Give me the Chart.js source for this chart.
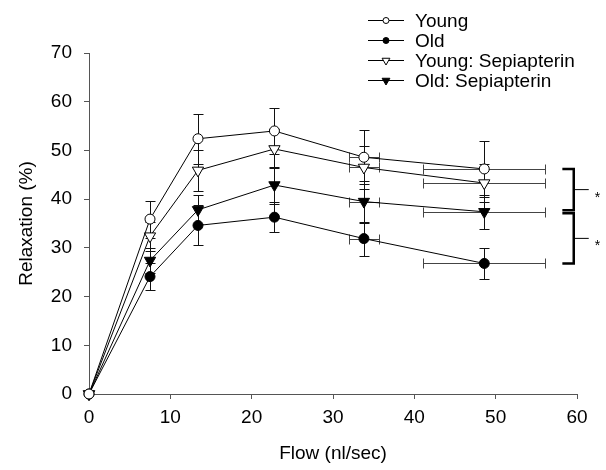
<!DOCTYPE html>
<html>
<head>
<meta charset="utf-8">
<script src="https://cdn.jsdelivr.net/npm/chart.js@4.4.1/dist/chart.umd.min.js"></script>
<style>
  html, body { margin: 0; padding: 0; background: #fff; }
</style>
</head>
<body>
<canvas id="flowChart" width="606" height="470"></canvas>
<script>
// flow (nl/sec) and horizontal error
const flow = [0, 7.5, 13.4, 22.8, 33.8, 48.6];
const flowErr = [0, 0, 0, 0, 1.85, 7.5];

// relaxation (%) and vertical error per group
const young = [0, 35.9, 52.4, 54.0, 48.6, 46.2];
const youngErr = [0, 3.8, 5.1, 4.8, 5.5, 5.8];
const old = [0, 24.1, 34.6, 36.3, 31.9, 26.8];
const oldErr = [0, 2.8, 4.1, 3.1, 3.5, 3.2];
const youngSep = [0, 32.4, 45.9, 50.3, 46.5, 43.3];
const youngSepErr = [0, 3.0, 4.2, 4.0, 4.5, 3.9];
const oldSep = [0, 27.4, 37.8, 42.9, 39.5, 37.4];
const oldSepErr = [0, 2.6, 3.0, 3.8, 4.3, 3.5];

const groupLabels = ['Young', 'Old', 'Young: Sepiapterin', 'Old: Sepiapterin'];
const xTicks = [0, 10, 20, 30, 40, 50, 60];
const yTicks = [0, 10, 20, 30, 40, 50, 60, 70];

const FONT = 'Liberation Sans, Arial, Helvetica, sans-serif';

const groups = [
  { values: young, err: youngErr, shape: 'circle', fill: '#fff', r: 5, rot: 0 },
  { values: old, err: oldErr, shape: 'circle', fill: '#000', r: 5, rot: 0 },
  { values: youngSep, err: youngSepErr, shape: 'triangle', fill: '#fff', r: 6.5, rot: 180 },
  { values: oldSep, err: oldSepErr, shape: 'triangle', fill: '#000', r: 6.5, rot: 180 },
];

const datasets = groups.map((g, i) => ({
  label: groupLabels[i],
  data: flow.map((x, j) => ({ x, y: g.values[j] })),
  yErr: g.err,
  xErr: flowErr,
  showLine: true,
  borderColor: '#000',
  borderWidth: 1,
  pointStyle: g.shape,
  pointRotation: g.rot,
  pointRadius: g.r,
  pointHoverRadius: g.r,
  pointBackgroundColor: g.fill,
  pointBorderColor: '#000',
  pointBorderWidth: 1,
  clip: false,
}));

function seg(ctx, x1, y1, x2, y2) {
  ctx.beginPath();
  ctx.moveTo(x1, y1);
  ctx.lineTo(x2, y2);
  ctx.stroke();
}

const errorBars = {
  id: 'errorBars',
  beforeDatasetsDraw(chart) {
    const { ctx, scales: { x, y } } = chart;
    ctx.save();
    ctx.strokeStyle = '#111';
    ctx.lineWidth = 1;
    chart.data.datasets.forEach(ds => {
      ds.data.forEach((p, i) => {
        const px = Math.round(x.getPixelForValue(p.x)) + 0.5;
        const py = Math.round(y.getPixelForValue(p.y)) + 0.5;
        const ey = ds.yErr[i], ex = ds.xErr[i];
        if (ey > 0) {
          const t = Math.round(y.getPixelForValue(p.y + ey)) + 0.5;
          const b = Math.round(y.getPixelForValue(p.y - ey)) + 0.5;
          seg(ctx, px, t, px, b);
          seg(ctx, px - 5, t, px + 5, t);
          seg(ctx, px - 5, b, px + 5, b);
        }
        if (ex > 0) {
          const l = Math.round(x.getPixelForValue(p.x - ex)) + 0.5;
          const r = Math.round(x.getPixelForValue(p.x + ex)) + 0.5;
          ctx.strokeStyle = '#444';
          seg(ctx, l, py, r, py);
          seg(ctx, l, py - 5, l, py + 5);
          seg(ctx, r, py - 5, r, py + 5);
          ctx.strokeStyle = '#111';
        }
      });
    });
    ctx.restore();
  }
};

function marker(ctx, shape, fill, r, cx, cy) {
  ctx.beginPath();
  if (shape === 'circle') {
    ctx.arc(cx, cy, r, 0, Math.PI * 2);
  } else {
    ctx.moveTo(cx - r * 0.866, cy - r * 0.5);
    ctx.lineTo(cx + r * 0.866, cy - r * 0.5);
    ctx.lineTo(cx, cy + r);
    ctx.closePath();
  }
  ctx.fillStyle = fill;
  ctx.fill();
  ctx.stroke();
}

const legendAndStats = {
  id: 'legendAndStats',
  afterDraw(chart) {
    const { ctx, scales: { x, y } } = chart;
    ctx.save();
    ctx.strokeStyle = '#000';
    ctx.lineWidth = 1;
    ctx.font = '19px ' + FONT;
    ctx.textBaseline = 'middle';
    ctx.textAlign = 'left';
    groups.forEach((g, i) => {
      const ly = 20.5 + i * 20;
      seg(ctx, 368, ly, 404, ly);
      marker(ctx, g.shape, g.fill, g.shape === 'circle' ? 3 : 4.5, 386, ly);
      ctx.fillStyle = '#000';
      ctx.fillText(groupLabels[i], 415, ly + 1);
    });

    // significance brackets at the last flow
    const last = flow.length - 1;
    const pairs = [[young[last], oldSep[last]], [oldSep[last], old[last]]];
    const xa = x.getPixelForValue(58.2), xb = x.getPixelForValue(59.6);
    ctx.lineWidth = 2.5;
    ctx.font = '14px ' + FONT;
    pairs.forEach(([hi, lo], k) => {
      const t = y.getPixelForValue(hi) + (k === 1 ? 1.5 : 0);
      const b = y.getPixelForValue(lo) - (k === 0 ? 1.5 : 0);
      ctx.beginPath();
      ctx.moveTo(xa, t);
      ctx.lineTo(xb, t);
      ctx.lineTo(xb, b);
      ctx.lineTo(xa, b);
      ctx.stroke();
      const m = (t + b) / 2;
      ctx.lineWidth = 1;
      seg(ctx, xb, m, xb + 15, m);
      ctx.lineWidth = 2.5;
      ctx.fillStyle = '#000';
      ctx.textBaseline = 'alphabetic';
      ctx.fillText('*', xb + 21, m + 12);
    });
    ctx.restore();
  }
};

const axisFont = { family: FONT, size: 19 };

new Chart(document.getElementById('flowChart'), {
  type: 'scatter',
  data: { datasets },
  options: {
    responsive: false,
    animation: false,
    events: [],
    layout: { padding: { top: 53, right: 29, left: 0, bottom: 0 } },
    plugins: { legend: { display: false }, tooltip: { enabled: false } },
    scales: {
      x: {
        type: 'linear',
        min: 0,
        max: 60,
        afterBuildTicks: s => { s.ticks = xTicks.map(v => ({ value: v })); },
        afterFit: s => { s.height = 76; },
        ticks: { color: '#000', font: axisFont, padding: 7, maxRotation: 0 },
        grid: { drawOnChartArea: false, drawTicks: true, tickLength: 5, color: '#555' },
        border: { color: '#555', width: 1 },
        title: { display: true, text: 'Flow (nl/sec)', color: '#000', font: axisFont, padding: { top: 0, bottom: 5 } },
      },
      y: {
        type: 'linear',
        min: 0,
        max: 70,
        afterBuildTicks: s => { s.ticks = yTicks.map(v => ({ value: v })); },
        afterFit: s => { s.width = 89; },
        ticks: { color: '#000', font: axisFont, padding: 12 },
        grid: { drawOnChartArea: false, drawTicks: true, tickLength: 5, color: '#555' },
        border: { color: '#555', width: 1 },
        title: { display: true, text: 'Relaxation (%)', color: '#000', font: axisFont, padding: { top: 15, bottom: 0 } },
      },
    },
  },
  plugins: [errorBars, legendAndStats],
});
</script>
</body>
</html>
